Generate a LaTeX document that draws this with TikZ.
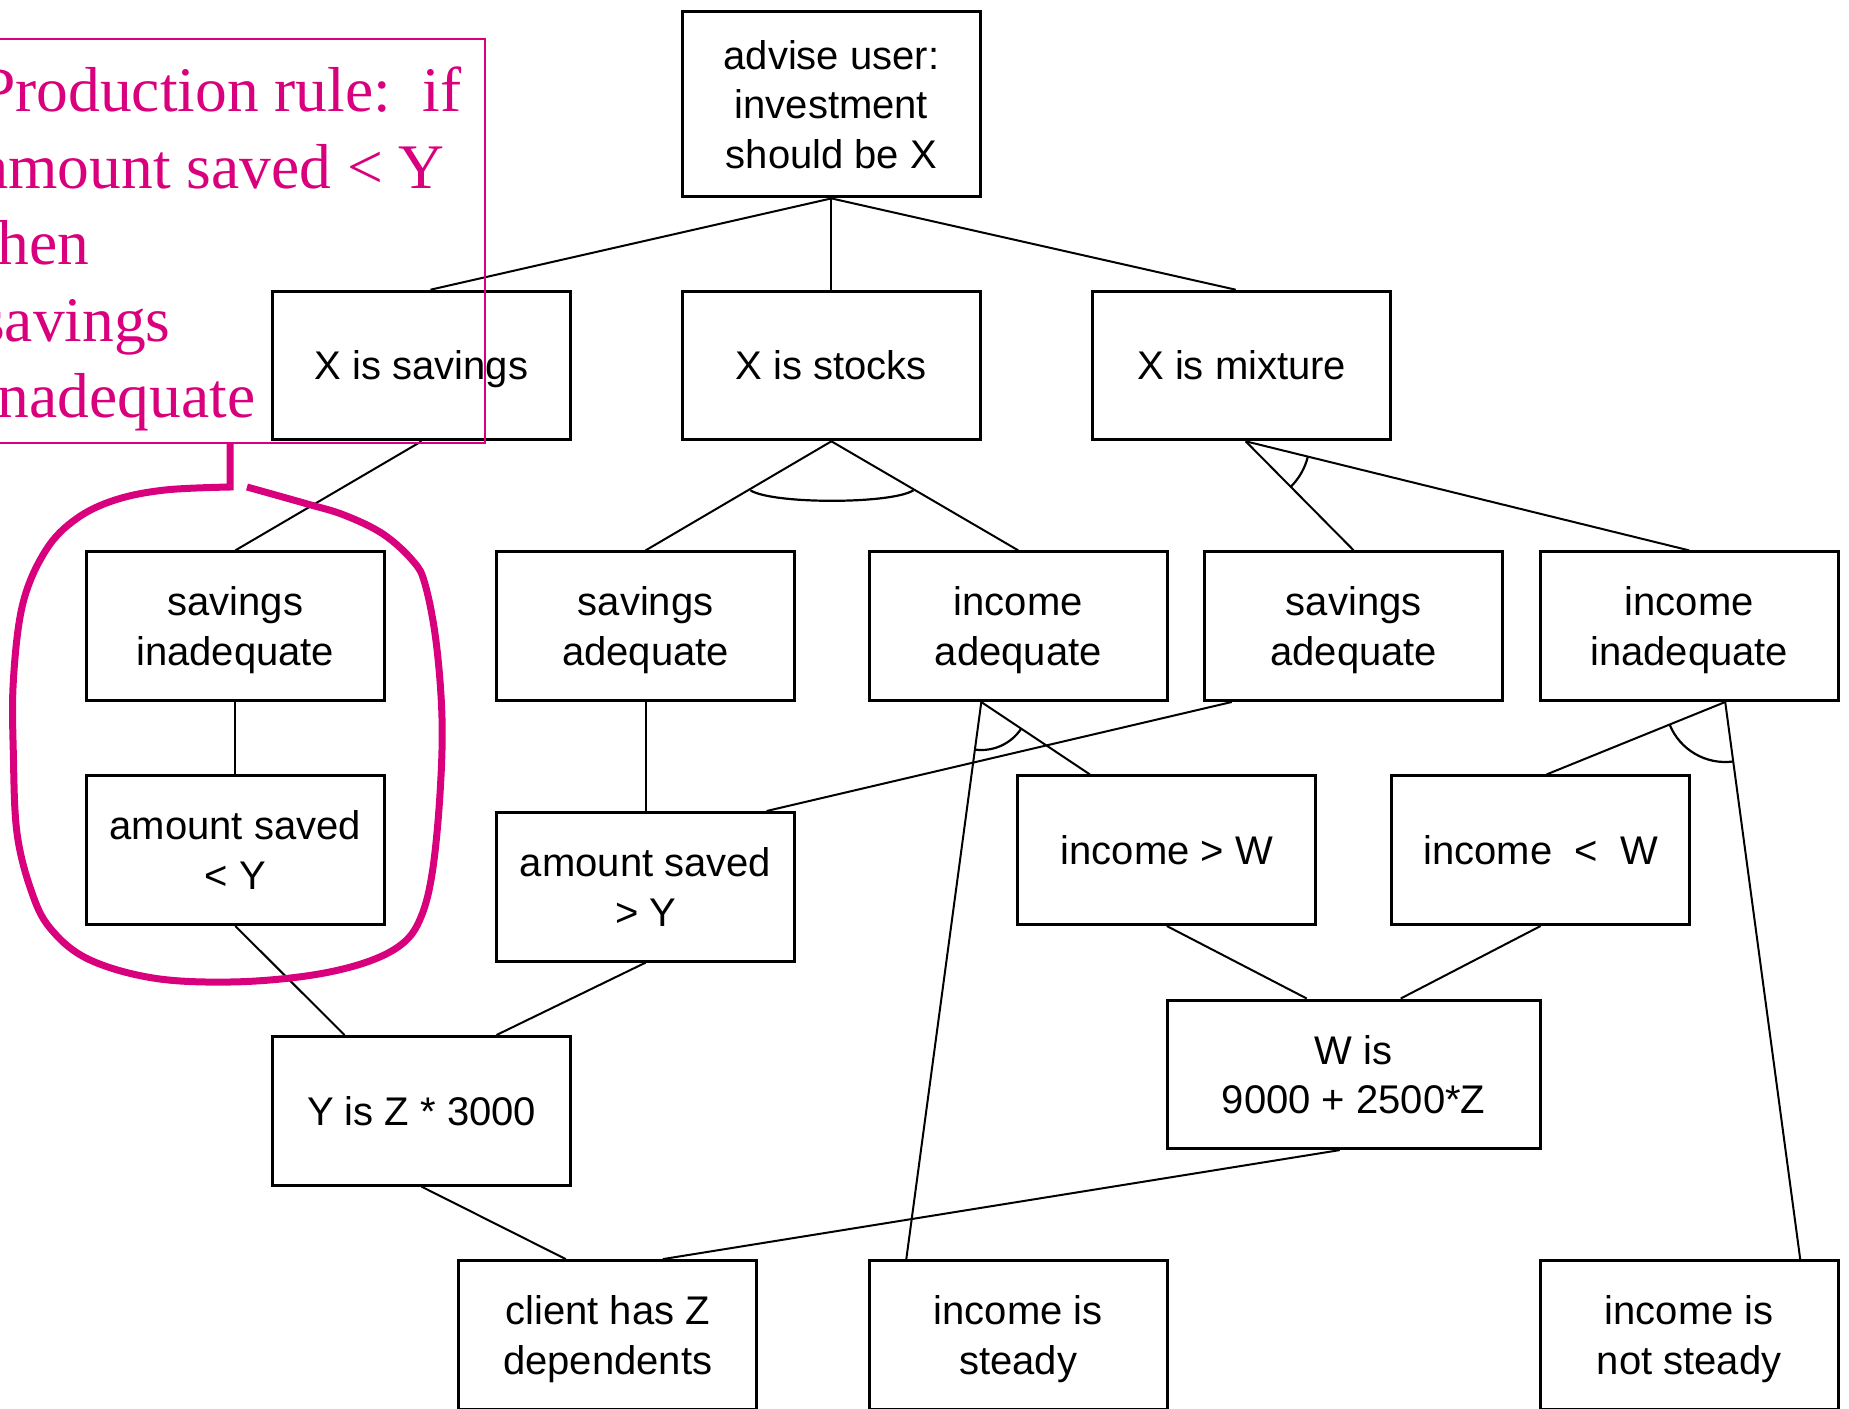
\documentclass[tikz,border=0pt]{standalone}
\usepackage{fontspec}
\setmainfont{Liberation Sans}
\newfontfamily\rulefont{Liberation Serif}
\usetikzlibrary{calc}
\definecolor{rulepink}{RGB}{217,0,126}

\begin{document}
\begin{tikzpicture}[x=1pt,y=-1pt,
  box/.style={draw, line width=3pt, minimum width=298pt, minimum height=148.6pt,
    align=center, inner sep=0pt, text depth=0pt, font=\fontsize{40}{49.5}\selectfont},
  link/.style={line width=2pt},
  andarc/.style={line width=2.2pt},
  note/.style={rulepink},
]
\useasboundingbox (0,0) rectangle (1849,1408);
\clip (0,0) rectangle (1849,1408);

% goal
\node[box, minimum height=185pt] (advise) at (831.4,104.4) {advise user:\\investment\\should be X};

% investment choices
\node[box] (Xsav) at (421.5,365.5) {X is savings};
\node[box] (Xst)  at (831.4,365.5) {X is stocks};
\node[box] (Xmix) at (1241.7,365.5) {X is mixture};

% adequacy conditions
\node[box] (sinad)   at (235.3,626.2)  {savings\\inadequate};
\node[box] (sadqA)   at (645.6,626.2)  {savings\\adequate};
\node[box] (incadq)  at (1018.3,626.2) {income\\adequate};
\node[box] (sadqB)   at (1353.7,626.2) {savings\\adequate};
\node[box] (incinad) at (1689.2,626.2) {income\\inadequate};

% comparisons
\node[box] (asl) at (235.3,850.2)  {amount saved\\< Y};
\node[box] (asg) at (645.6,886.8)  {amount saved\\> Y};
\node[box] (igw) at (1166.8,850.2) {income > W};
\node[box] (ilw) at (1540.6,850.2) {income\ \ <\ \ W};

% derived quantities
\node[box, minimum width=372.6pt] (W) at (1353.7,1074.3) {W is\\9000 + 2500*Z};
\node[box] (Y) at (421.5,1110.8) {Y is Z * 3000};

% facts
\node[box] (client)    at (607.8,1334.9)  {client has Z\\dependents};
\node[box] (steady)    at (1018.3,1334.9) {income is\\steady};
\node[box] (notsteady) at (1689.2,1334.9) {income is\\not steady};

% junction points of the and-links
\coordinate (stk) at (Xst.south);
\coordinate (mix) at ([xshift=4pt]Xmix.south);
\coordinate (ia)  at ([xshift=-37pt]incadq.south);
\coordinate (ii)  at ([xshift=36pt]incinad.south);

% links
\draw[link] (advise.south) -- ([xshift=9pt]Xsav.north);
\draw[link] (advise.south) -- (Xst.north);
\draw[link] (advise.south) -- ([xshift=-6pt]Xmix.north);

\draw[link] (Xsav.south) -- (sinad.north);
\draw[link] (sinad.south) -- (asl.north);
\draw[link] (asl.south) -- ([xshift=-77pt]Y.north);

\draw[link] (stk) -- (sadqA.north);
\draw[link] (stk) -- (incadq.north);
\draw[andarc] ($(stk)+(-81,49)$) .. controls ($(stk)+(-59,63)$) and ($(stk)+(60,63)$) .. ($(stk)+(82,49)$);

\draw[link] (sadqA.south) -- (asg.north);
\draw[link] (asg.south) -- ([xshift=75pt]Y.north);

\draw[link] (mix) -- (sadqB.north);
\draw[link] (mix) -- (incinad.north);
\draw[andarc] ([shift={(14.07:64)}]mix) arc[start angle=14.07, end angle=45.9, radius=64];

\draw[link] (ia) -- ([xshift=-112pt]steady.north);
\draw[link] (ia) -- ([xshift=-77pt]igw.north);
\draw[andarc] ([shift={(33.7:48)}]ia) arc[start angle=33.7, end angle=97.7, radius=48];

\draw[link] ([xshift=-122pt]sadqB.south) -- ([xshift=121pt]asg.north);

\draw[link] (ii) -- ([xshift=6pt]ilw.north);
\draw[link] (ii) -- ([xshift=111pt]notsteady.north);
\draw[andarc] ([shift={(82.3:60)}]ii) arc[start angle=82.3, end angle=158.1, radius=60];

\draw[link] (igw.south) -- ([xshift=-47pt]W.north);
\draw[link] (ilw.south) -- ([xshift=47pt]W.north);

\draw[link] ([xshift=-14pt]W.south) -- ([xshift=55pt]client.north);
\draw[link] (Y.south) -- ([xshift=-42pt]client.north);

% production-rule annotation
\draw[note, line width=2pt] (-10,39) rectangle (485,443);
\node[note, anchor=north west, inner sep=0pt, align=left,
      font=\rulefont\fontsize{63.5}{76.5}\selectfont] (rule) at (-20,67)
  {Production rule:\ \ if\\amount saved < Y\\then\\savings\\inadequate};

% bracket grouping the rule's nodes
\draw[note, line width=7pt, line join=miter]
  (230,443) -- (230,487) -- plot[smooth, tension=0.6] coordinates {
    (230,487) (165,490) (115,500) (76,519) (46,550) (23,603) (13.4,680)
    (13.4,756) (17,833) (31,890) (50,928) (88,959) (153,978) (230,982)
    (306,976) (364,963) (402,944) (421,917) (432.5,871) (440,794)
    (442,718) (436,641) (425,584) (413,561) (383,534) (344,515)
    (306,503.6) (247,487)};
\end{tikzpicture}
\end{document}
